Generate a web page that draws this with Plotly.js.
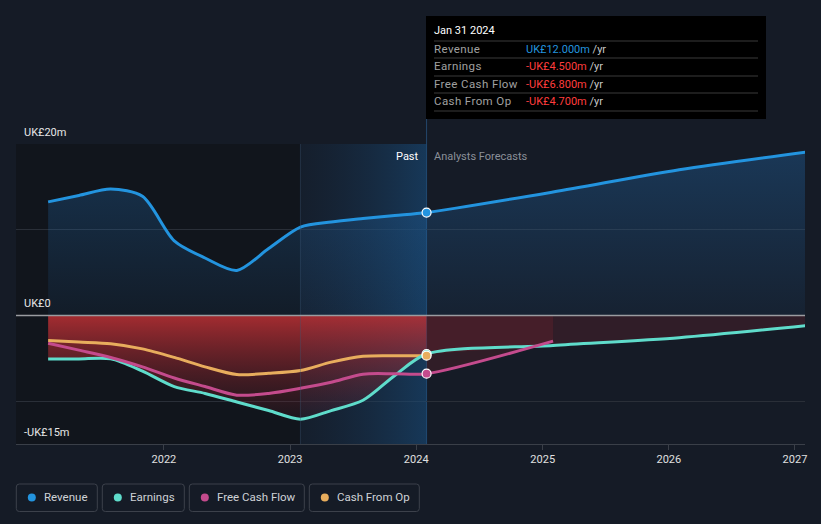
<!DOCTYPE html>
<html>
<head>
<meta charset="utf-8">
<script src="https://cdn.plot.ly/plotly-3.0.1.min.js"></script>
<style>html,body{margin:0;padding:0;background:#151b26;}#chart{width:821px;height:524px;}</style>
</head>
<body>
<div id="chart"></div>
<script>
// ---- data ----
const pastDates = ['2021-01-31','2021-04-30','2021-07-31','2021-10-31','2022-01-31','2022-04-30','2022-07-31','2022-10-31','2023-01-31','2023-04-30','2023-07-31','2023-10-31','2024-01-31'];
const forecastDates = ['2024-01-31','2025-01-31','2026-01-31','2027-01-31'];
const revenuePast = [13.25,14.0,14.75,13.9,8.7,6.7,5.25,7.8,10.3,10.9,11.3,11.65,12.0];
const revenueForecast = [12.0,14.4,17.0,19.05];
const earningsPast = [-5.07,-5.07,-5.07,-6.5,-8.3,-9.1,-10.1,-11.1,-12.1,-11.1,-9.9,-7.0,-4.5];
const earningsForecast = [-4.5,-3.5,-2.6,-1.2];
const fcfPast = [-3.24,-4.05,-4.9,-6.0,-7.3,-8.3,-9.3,-9.1,-8.5,-7.8,-6.85,-6.8,-6.8];
const fcfForecast = [-6.8,-3.0];
const cfoPast = [-2.92,-3.1,-3.3,-3.9,-4.9,-6.0,-6.9,-6.75,-6.43,-5.45,-4.76,-4.7,-4.7];
const seriesNames = ['Revenue','Earnings','Free Cash Flow','Cash From Op'];
const seriesColors = ['#2394df','#5fdccb','#c44b8d','#e8ad5d'];
const tooltipDate = 'Jan 31 2024';
const tooltipValues = ['UK£12.000m','-UK£4.500m','-UK£6.800m','-UK£4.700m'];
const yLabels = [[20,'UK£20m'],[0,'UK£0'],[-15,'-UK£15m']];
const xTickVals = ['2022-01-01','2023-01-01','2024-01-01','2025-01-01','2026-01-01','2027-01-01'];
const xTickText = ['2022','2023','2024','2025','2026','2027'];
const nowDate = '2024-01-31';
const bandStart = '2023-01-31';

// ---- helpers (pixel -> paper) ----
const L = 16, PW = 789, BOT = 444, PH = 300;
const px = x => (x - L) / PW;
const py = y => (BOT - y) / PH;

const font = 'Roboto, "Noto Sans", sans-serif';
const allDates = pastDates.concat(forecastDates.slice(1));
const join = (a, b) => a.concat(b.slice(1));

const traces = [];
// highlight band (last year of past)
traces.push({x:[bandStart, nowDate, nowDate, bandStart, bandStart], y:[20,20,-15,-15,20], mode:'lines', line:{width:0},
  fill:'toself', fillgradient:{type:'horizontal', colorscale:[[0,'rgba(22,50,80,0.15)'],[1,'rgba(24,80,130,0.55)']]},
  hoverinfo:'skip', showlegend:false});
// revenue fill
traces.push({x:allDates, y:join(revenuePast, revenueForecast), mode:'lines', line:{width:0, shape:'spline', smoothing:0.8},
  fill:'tozeroy', fillgradient:{type:'vertical', colorscale:[[0,'rgba(35,110,180,0.08)'],[1,'rgba(35,110,180,0.34)']]},
  hoverinfo:'skip', showlegend:false});
// earnings fill (past)
traces.push({x:pastDates, y:earningsPast, mode:'lines', line:{width:0, shape:'spline', smoothing:0.8},
  fill:'tozeroy', fillgradient:{type:'vertical', colorscale:[[0,'rgba(110,30,40,0.12)'],[1,'rgba(190,48,52,0.85)']]},
  hoverinfo:'skip', showlegend:false});
// earnings fill (forecast)
traces.push({x:forecastDates, y:earningsForecast, mode:'lines', line:{width:0, shape:'spline', smoothing:0.8},
  fill:'tozeroy', fillcolor:'rgba(120,35,45,0.28)', hoverinfo:'skip', showlegend:false});
// fcf fill (forecast)
traces.push({x:forecastDates.slice(0,2), y:fcfForecast, mode:'lines', line:{width:0},
  fill:'tozeroy', fillcolor:'rgba(130,35,45,0.25)', hoverinfo:'skip', showlegend:false});

// lines
traces.push({x:pastDates, y:cfoPast, mode:'lines', line:{color:seriesColors[3], width:3, shape:'spline', smoothing:0.8}, hoverinfo:'skip', showlegend:false});
traces.push({x:allDates, y:join(earningsPast, earningsForecast), mode:'lines', line:{color:seriesColors[1], width:3, shape:'spline', smoothing:0.8}, hoverinfo:'skip', showlegend:false});
traces.push({x:pastDates.concat(forecastDates.slice(1,2)), y:join(fcfPast, fcfForecast), mode:'lines', line:{color:seriesColors[2], width:3, shape:'spline', smoothing:0.8}, hoverinfo:'skip', showlegend:false});
traces.push({x:allDates, y:join(revenuePast, revenueForecast), mode:'lines', line:{color:seriesColors[0], width:3, shape:'spline', smoothing:0.8}, hoverinfo:'skip', showlegend:false});

// markers at current date
const last = a => a[a.length-1];
traces.push({x:[nowDate,nowDate,nowDate,nowDate], y:[last(revenuePast), last(earningsPast), last(fcfPast), last(cfoPast)],
  mode:'markers', marker:{size:9, color:[seriesColors[0],seriesColors[1],seriesColors[2],seriesColors[3]], line:{color:'#ffffff', width:1.2}},
  hoverinfo:'skip', showlegend:false});

const shapes = [];
const annotations = [];
// dark past region
shapes.push({type:'rect', xref:'paper', x0:0, x1:px(300), yref:'paper', y0:0, y1:1, fillcolor:'#11151c', line:{width:0}, layer:'below'});
// band left edge
shapes.push({type:'line', xref:'x', x0:bandStart, x1:bandStart, yref:'paper', y0:0, y1:1, line:{color:'rgba(60,90,120,0.35)', width:1}, layer:'above'});
// hover line
shapes.push({type:'line', xref:'x', x0:nowDate, x1:nowDate, yref:'paper', y0:0, y1:py(118), line:{color:'#24476b', width:1}, layer:'below'});
// zero line
shapes.push({type:'line', xref:'paper', x0:0, x1:1, yref:'y', y0:0, y1:0, line:{color:'#9a9ca0', width:1.5}, layer:'above'});

// y labels
yLabels.forEach(([v,t]) => annotations.push({xref:'paper', x:px(22), yref:'y', y:v, yshift:3, xanchor:'left', yanchor:'bottom',
  text:t, showarrow:false, font:{family:font, size:11, color:'#e6e6e6'}}));
// Past / Forecast labels
annotations.push({xref:'x', x:nowDate, xshift:-6, yref:'paper', y:py(156), xanchor:'right', yanchor:'middle', text:'Past', showarrow:false, font:{family:font, size:11, color:'#ffffff'}});
annotations.push({xref:'x', x:nowDate, xshift:5, yref:'paper', y:py(156), xanchor:'left', yanchor:'middle', text:'Analysts Forecasts', showarrow:false, font:{family:font, size:11, color:'#8b9099'}});

// tooltip
shapes.push({type:'rect', xref:'paper', yref:'paper', x0:px(426), x1:px(766), y0:py(119), y1:py(16), fillcolor:'#000000', line:{width:0}, layer:'above'});
annotations.push({xref:'paper', yref:'paper', x:px(432), y:py(31), xanchor:'left', yanchor:'middle', text:tooltipDate, showarrow:false, font:{family:font, size:11, color:'#ffffff'}});
[41,58,76,93,111].forEach(yy => shapes.push({type:'line', xref:'paper', yref:'paper', x0:px(434), x1:px(758), y0:py(yy), y1:py(yy), line:{color:'#3a3a3a', width:1}, layer:'above'}));
[49,66,84,101].forEach((yy,i) => {
  annotations.push({xref:'paper', yref:'paper', x:px(432), y:py(yy), xanchor:'left', yanchor:'middle', text:'<span style="letter-spacing:0.4px">'+seriesNames[i]+'</span>', showarrow:false, font:{family:font, size:11.5, color:'#a0a0a0'}});
  const vc = i === 0 ? '#2394df' : '#ff3d3d';
  annotations.push({xref:'paper', yref:'paper', x:px(524), y:py(yy), xanchor:'left', yanchor:'middle', text:'<span style="color:'+vc+'">'+tooltipValues[i]+'</span> /yr', showarrow:false, font:{family:font, size:11, color:'#c8c8c8'}});
});

// custom legend boxes
function rrect(x0, x1, y0, y1, r) {
  const rx = r / PW, ry = r / PH;
  const X0 = px(x0), X1 = px(x1), Y0 = py(y1), Y1 = py(y0);
  return `M${X0+rx},${Y0} L${X1-rx},${Y0} Q${X1},${Y0} ${X1},${Y0+ry} L${X1},${Y1-ry} Q${X1},${Y1} ${X1-rx},${Y1} L${X0+rx},${Y1} Q${X0},${Y1} ${X0},${Y1-ry} L${X0},${Y0+ry} Q${X0},${Y0} ${X0+rx},${Y0} Z`;
}
const legBoxes = [[16.3,97.3],[102.3,184.3],[189.3,304.3],[309.3,419.3]];
legBoxes.forEach(([a,b],i) => {
  shapes.push({type:'path', xref:'paper', yref:'paper', path:rrect(a,b,484,511.5,3), fillcolor:'rgba(0,0,0,0)', line:{color:'#3c414b', width:1}});
  const cx = a + 15.5, cy = 497.5, r = 4;
  shapes.push({type:'circle', xref:'paper', yref:'paper', x0:px(cx-r), x1:px(cx+r), y0:py(cy+r), y1:py(cy-r), fillcolor:seriesColors[i], line:{width:0}});
  annotations.push({xref:'paper', yref:'paper', x:px(a+25.5), y:py(497), xanchor:'left', yanchor:'middle', text:seriesNames[i], showarrow:false, font:{family:font, size:11.5, color:'#cfd2d6'}});
});

const layout = {
  width:821, height:524,
  margin:{l:16, r:16, t:144, b:80},
  paper_bgcolor:'#151b26', plot_bgcolor:'#151b26',
  showlegend:false,
  font:{family:font, color:'#e0e0e0'},
  xaxis:{type:'date', range:['2020-10-30','2027-01-30'], tickvals:xTickVals, ticktext:xTickText, showgrid:false, zeroline:false,
    showline:true, linecolor:'#3a3f48', linewidth:1, ticks:'outside', ticklen:5, tickcolor:'#3a3f48',
    tickfont:{family:font, size:11, color:'#e0e0e0'}},
  yaxis:{range:[-15,20], tickvals:[20,10,0,-10], showticklabels:false, showgrid:true, gridcolor:'#2a2f38', gridwidth:1, zeroline:false, fixedrange:true},
  shapes:shapes, annotations:annotations,
  hovermode:false
};
Plotly.newPlot('chart', traces, layout, {displayModeBar:false, staticPlot:true});
</script>
</body>
</html>
